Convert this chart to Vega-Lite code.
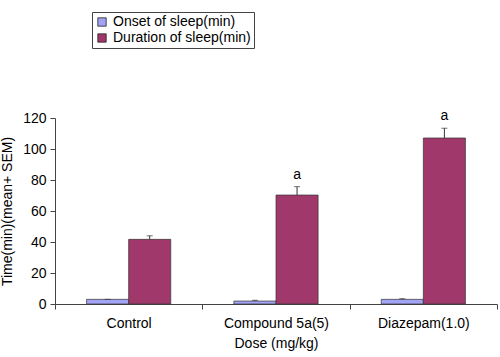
{
  "$schema": "https://vega.github.io/schema/vega-lite/v6.json",
  "width": 442,
  "height": 186,
  "autosize": {"type": "none"},
  "padding": {"left": 55, "top": 118, "right": 3, "bottom": 53},
  "background": "white",
  "config": {
    "font": "Liberation Sans",
    "view": {"stroke": null},
    "axis": {"grid": false, "domainColor": "#444", "tickColor": "#444", "labelColor": "black", "titleColor": "black", "labelFontSize": 14, "titleFontSize": 14, "titleFontWeight": "normal", "labelOverlap": false}
  },
  "data": {
    "values": [
      {"group": "Control", "series": "Onset of sleep(min)", "value": 3.0, "upper": 3.0, "label": ""},
      {"group": "Control", "series": "Duration of sleep(min)", "value": 41.7, "upper": 44.0, "label": ""},
      {"group": "Compound 5a(5)", "series": "Onset of sleep(min)", "value": 1.9, "upper": 2.4, "label": ""},
      {"group": "Compound 5a(5)", "series": "Duration of sleep(min)", "value": 70.3, "upper": 75.7, "label": "a"},
      {"group": "Diazepam(1.0)", "series": "Onset of sleep(min)", "value": 3.0, "upper": 3.4, "label": ""},
      {"group": "Diazepam(1.0)", "series": "Duration of sleep(min)", "value": 107.1, "upper": 113.4, "label": "a"}
    ]
  },
  "encoding": {
    "x": {
      "field": "group", "type": "nominal",
      "sort": ["Control", "Compound 5a(5)", "Diazepam(1.0)"],
      "scale": {"paddingInner": 0, "paddingOuter": 0},
      "axis": {"title": "Dose (mg/kg)", "labelAngle": 0, "tickBand": "extent", "tickSize": 5, "labelPadding": 7, "titlePadding": 6}
    },
    "xOffset": {
      "field": "series", "type": "nominal",
      "sort": ["Onset of sleep(min)", "Duration of sleep(min)"],
      "scale": {"paddingInner": 0, "paddingOuter": 0.75}
    }
  },
  "layer": [
    {
      "mark": {"type": "bar", "stroke": "#333", "strokeWidth": 0.7},
      "encoding": {
        "y": {
          "field": "value", "type": "quantitative",
          "scale": {"domain": [0, 120], "nice": false},
          "axis": {"title": "Time(min)(mean+ SEM)", "values": [0, 20, 40, 60, 80, 100, 120], "tickCount": 7, "tickSize": 5, "labelPadding": 4, "titlePadding": 8}
        },
        "color": {
          "field": "series", "type": "nominal",
          "sort": ["Onset of sleep(min)", "Duration of sleep(min)"],
          "scale": {"domain": ["Onset of sleep(min)", "Duration of sleep(min)"], "range": ["#a3a3f5", "#a0386b"]},
          "legend": {
            "title": null, "orient": "none", "legendX": 37, "legendY": -106,
            "symbolType": "square", "symbolSize": 70, "symbolStrokeColor": "#222", "symbolStrokeWidth": 0.8,
            "labelFontSize": 14, "labelColor": "black", "strokeColor": "#444", "padding": 3, "rowPadding": 2, "labelOffset": 4
          }
        }
      }
    },
    {
      "mark": {"type": "rule", "color": "#333", "strokeWidth": 1},
      "encoding": {
        "y": {"field": "value", "type": "quantitative", "scale": {"domain": [0, 120], "nice": false},
          "axis": {"title": "Time(min)(mean+ SEM)", "values": [0, 20, 40, 60, 80, 100, 120], "tickCount": 7, "tickSize": 5, "labelPadding": 4, "titlePadding": 8}},
        "y2": {"field": "upper"}
      }
    },
    {
      "mark": {"type": "tick", "color": "#333", "size": 6, "thickness": 1, "orient": "horizontal"},
      "encoding": {
        "y": {"field": "upper", "type": "quantitative", "scale": {"domain": [0, 120], "nice": false},
          "axis": {"title": "Time(min)(mean+ SEM)", "values": [0, 20, 40, 60, 80, 100, 120], "tickCount": 7, "tickSize": 5, "labelPadding": 4, "titlePadding": 8}}
      }
    },
    {
      "mark": {"type": "text", "fontSize": 14, "dy": -12, "color": "black"},
      "encoding": {
        "y": {"field": "upper", "type": "quantitative", "scale": {"domain": [0, 120], "nice": false},
          "axis": {"title": "Time(min)(mean+ SEM)", "values": [0, 20, 40, 60, 80, 100, 120], "tickCount": 7, "tickSize": 5, "labelPadding": 4, "titlePadding": 8}},
        "text": {"field": "label"}
      }
    }
  ]
}
